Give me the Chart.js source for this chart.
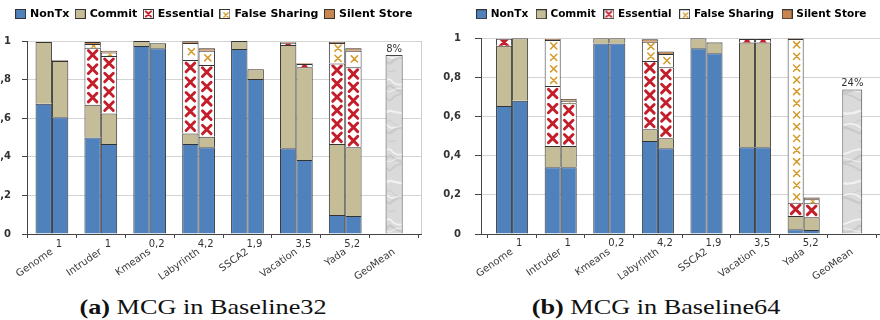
<!DOCTYPE html>
<html>
<head>
<meta charset="utf-8">
<script src="https://cdn.jsdelivr.net/npm/chart.js@4.4.1/dist/chart.umd.min.js"></script>
<style>
  html, body { margin:0; padding:0; background:#fff; }
  body { width:880px; height:320px; overflow:hidden; position:relative; }
  canvas { position:absolute; top:0; }
  #c1 { left:0; }
  #c2 { left:440px; }
  .cap { position:absolute; top:297px; font-family:"Liberation Serif","Times New Roman",serif; font-size:21px; line-height:1; color:#111; white-space:nowrap; transform-origin:50% 50%; transform:translateX(-50%) scaleX(1.25); }
  #cap1 { left:203px; }
  #cap2 { left:656px; }
</style>
</head>
<body>
<canvas id="c1" width="428" height="290"></canvas>
<canvas id="c2" width="464" height="290"></canvas>
<div class="cap" id="cap1"><b>(a)</b> MCG in Baseline32</div>
<div class="cap" id="cap2"><b>(b)</b> MCG in Baseline64</div>
<script>
// ---------- data ----------
const categories = ['Genome', 'Intruder', 'Kmeans', 'Labyrinth', 'SSCA2', 'Vacation', 'Yada', 'GeoMean'];
const categoryNotes = ['1', '1', '0,2', '4,2', '1,9', '3,5', '5,2', ''];
const seriesNames = ['NonTx', 'Commit', 'Essential', 'False Sharing', 'Silent Store'];
const yTickValues = [0, 0.2, 0.4, 0.6, 0.8, 1];
const yTickLabels = ['0', '0,2', '0,4', '0,6', '0,8', '1'];

// (a) Baseline32 - first bar of each pair
const b32A_nonTx        = [0.675, 0.500, 0.974, 0.466, 0.958, 0.444, 0.098];
const b32A_commit       = [0.320, 0.170, 0.026, 0.055, 0.042, 0.535, 0.368];
const b32A_essential    = [0,     0.295, 0,     0.380, 0,     0.012, 0.418];
const b32A_falseSharing = [0,     0.020, 0,     0.088, 0,     0,     0.106];
const b32A_silentStore  = [0,     0.010, 0,     0.010, 0,     0.004, 0.005];
// (a) Baseline32 - second bar of each pair
const b32B_nonTx        = [0.605, 0.466, 0.962, 0.449, 0.803, 0.383, 0.093];
const b32B_commit       = [0.291, 0.159, 0.026, 0.055, 0.050, 0.481, 0.356];
const b32B_essential    = [0,     0.297, 0,     0.372, 0,     0.017, 0.415];
const b32B_falseSharing = [0,     0.018, 0,     0.074, 0,     0,     0.086];
const b32B_silentStore  = [0.004, 0.010, 0,     0.012, 0,     0.004, 0.012];
const b32_geoMean = 0.927;
const b32_geoLabel = '8%';

// (b) Baseline64 - first bar of each pair
const b64A_nonTx        = [0.654, 0.341, 0.974, 0.475, 0.949, 0.443, 0.024];
const b64A_commit       = [0.308, 0.109, 0.026, 0.060, 0.051, 0.535, 0.068];
const b64A_essential    = [0.036, 0.306, 0,     0.349, 0,     0.019, 0.068];
const b64A_falseSharing = [0,     0.235, 0,     0.099, 0,     0,     0.837];
const b64A_silentStore  = [0,     0.006, 0,     0.012, 0,     0,     0.003];
// (b) Baseline64 - second bar of each pair
const b64B_nonTx        = [0.681, 0.341, 0.974, 0.438, 0.923, 0.443, 0.020];
const b64B_commit       = [0.319, 0.109, 0.026, 0.051, 0.055, 0.535, 0.065];
const b64B_essential    = [0,     0.218, 0,     0.363, 0,     0.019, 0.072];
const b64B_falseSharing = [0,     0.013, 0,     0.068, 0,     0,     0.020];
const b64B_silentStore  = [0,     0.009, 0,     0.012, 0.003, 0,     0.010];
const b64_geoMean = 0.739;
const b64_geoLabel = '24%';

// ---------- styles ----------
const fills = ['#4F81BD', '#C4BD97', '#FFFFFF', '#FFFFFF', '#C8864E'];
const marks = [null, null, 'ess', 'fs', null];
const edge = '#333333';
const essColor = '#C41E2A';
const fsColor = '#D49A2A';

function drawX(g, cx, cy, r, color, lw) {
  g.strokeStyle = color; g.lineWidth = lw; g.lineCap = 'round';
  g.beginPath();
  g.moveTo(cx - r, cy - r); g.lineTo(cx + r, cy + r);
  g.moveTo(cx + r, cy - r); g.lineTo(cx - r, cy + r);
  g.stroke();
}

function legendIcon(i) {
  const c = document.createElement('canvas'); c.width = 11; c.height = 10;
  const g = c.getContext('2d');
  g.fillStyle = fills[i]; g.fillRect(0.5, 0.5, 10, 9);
  if (marks[i] === 'ess') drawX(g, 5.5, 5, 2.6, essColor, 2);
  if (marks[i] === 'fs') drawX(g, 6.5, 6, 2.2, fsColor, 1.3);
  g.strokeStyle = edge; g.lineWidth = 1; g.strokeRect(0.5, 0.5, 10, 9);
  return c;
}
const icons = seriesNames.map((_, i) => legendIcon(i));

function marbleTile() {
  const c = document.createElement('canvas'); c.width = 30; c.height = 70;
  const g = c.getContext('2d');
  g.fillStyle = '#dadada'; g.fillRect(0, 0, 30, 70);
  for (let k = 0; k < 9; k++) {
    g.strokeStyle = k % 2 ? 'rgba(248,248,248,0.75)' : 'rgba(165,165,165,0.3)';
    g.lineWidth = 1 + (k % 3) * 0.7;
    const y0 = k * 8;
    g.beginPath();
    g.moveTo(0, y0 + 2 * Math.cos(k));
    g.bezierCurveTo(9, y0 + 14 * Math.sin(k * 1.3), 20, y0 - 10 * Math.cos(k * 1.7), 30, y0 + 2 * Math.cos(k));
    g.stroke();
  }
  return c;
}

// ---------- plugins ----------
const marksPlugin = {
  id: 'marks',
  afterDatasetsDraw(chart) {
    const g = chart.ctx;
    chart.data.datasets.forEach((ds, di) => {
      if (!ds.mark) return;
      const meta = chart.getDatasetMeta(di);
      const sp = ds.mark === 'ess' ? 14.5 : 11.7;
      meta.data.forEach((el, j) => {
        if (ds.data[j] == null) return;
        const p = el.getProps(['x', 'y', 'base', 'width'], true);
        const top = Math.min(p.y, p.base), bot = Math.max(p.y, p.base), h = bot - top;
        if (h <= 0) return;
        const left = p.x - p.width / 2;
        g.save();
        g.beginPath(); g.rect(left + 1, top + 1, p.width - 2, h - 1); g.clip();
        const n = Math.max(1, Math.round(h / sp)); const step = h / n;
        for (let k = 0; k < n; k++) {
          const cy = bot - step * (k + 0.5);
          if (ds.mark === 'ess') drawX(g, p.x, cy, 4.3, essColor, 2.9);
          else drawX(g, p.x + 1, cy, 3.1, fsColor, 1.5);
        }
        g.restore();
      });
    });
  }
};

function makeExtras(cfg) {
  return {
    id: 'extras',
    beforeLayout(chart) {
      const lg = chart.legend;
      if (lg && !lg._fixed) {
        const orig = lg.fit.bind(lg);
        lg.fit = function () { orig(); this.height = cfg.legendHeight; };
        lg._fixed = true;
      }
    },
    afterLayout(chart) {
      const lg = chart.legend;
      if (lg) { lg.left += cfg.legendShift; lg.right += cfg.legendShift; }
    },
    beforeDatasetsDraw(chart) {
      if (!cfg.frame) return;
      const a = chart.chartArea, g = chart.ctx;
      g.save(); g.strokeStyle = '#cfcfcf'; g.lineWidth = 1;
      g.beginPath(); g.moveTo(Math.round(a.right) + 0.5, a.top); g.lineTo(Math.round(a.right) + 0.5, a.bottom); g.stroke();
      g.restore();
    },
    afterDraw(chart) {
      const xs = chart.scales.x, a = chart.chartArea, g = chart.ctx;
      g.save();
      g.font = '10px "DejaVu Sans"'; g.fillStyle = '#333'; g.textAlign = 'center'; g.textBaseline = 'middle';
      categoryNotes.forEach((t, i) => { if (t) g.fillText(t, xs.getPixelForValue(i) + cfg.noteDx, a.bottom + cfg.noteDy); });
      chart.data.datasets.forEach((ds, di) => {
        if (!ds.pctLabel) return;
        const meta = chart.getDatasetMeta(di);
        meta.data.forEach((el, j) => {
          if (ds.data[j] == null) return;
          g.fillText(ds.pctLabel, el.x, el.y - 6);
        });
      });
      g.restore();
    }
  };
}

function makeChart(canvasId, cfg) {
  const canvas = document.getElementById(canvasId);
  const ctx = canvas.getContext('2d');
  const marble = ctx.createPattern(marbleTile(), 'repeat');
  const datasets = [];
  [['A', cfg.first], ['B', cfg.second]].forEach(([side, arrs]) => {
    arrs.forEach((arr, s) => {
      datasets.push({
        label: seriesNames[s],
        data: arr.map(v => (v > 0 ? v : null)).concat([null]),
        stack: side,
        backgroundColor: fills[s],
        borderColor: edge,
        borderWidth: 1,
        borderSkipped: 'start',
        categoryPercentage: cfg.catPct,
        barPercentage: 1,
        mark: marks[s]
      });
    });
  });
  datasets.push({
    label: 'GeoMean',
    data: categories.map((c, i) => (i === categories.length - 1 ? cfg.geo : null)),
    stack: 'G',
    grouped: false,
    categoryPercentage: cfg.geoPct,
    barPercentage: 1,
    backgroundColor: marble,
    borderColor: '#444',
    borderWidth: 1,
    pctLabel: cfg.geoLabel
  });

  return new Chart(ctx, {
    type: 'bar',
    data: { labels: categories.map((_, i) => i), datasets },
    plugins: [marksPlugin, makeExtras(cfg)],
    options: {
      responsive: false,
      animation: false,
      devicePixelRatio: 1,
      layout: { padding: cfg.pad },
      plugins: {
        tooltip: { enabled: false },
        legend: {
          position: 'top',
          align: 'center',
          labels: {
            usePointStyle: true,
            pointStyleWidth: 8,
            padding: cfg.legendPad,
            color: '#1e1e1e',
            font: { family: 'DejaVu Sans', size: cfg.legendFont, weight: 'bold' },
            generateLabels: () => seriesNames.map((n, i) => ({
              text: n, pointStyle: icons[i], fillStyle: fills[i], strokeStyle: edge,
              lineWidth: 1, hidden: false, datasetIndex: i
            }))
          }
        }
      },
      scales: {
        x: {
          type: 'linear',
          offset: false,
          stacked: true,
          min: cfg.xMin,
          max: cfg.xMax,
          afterBuildTicks: s => { s.ticks = categories.map((_, i) => ({ value: i })); },
          afterFit: s => { s.height = 56; },
          ticks: {
            autoSkip: false, minRotation: 35, maxRotation: 35, padding: 8,
            color: '#3a3a3a', font: { family: 'DejaVu Sans', size: 10 },
            callback: v => (categories[v] !== undefined ? categories[v] : '')
          },
          grid: { display: true, drawOnChartArea: false, drawTicks: true, tickLength: 4, offset: true, tickColor: '#444' },
          border: { display: true, color: '#444' }
        },
        y: {
          stacked: true,
          min: 0,
          max: 1,
          afterBuildTicks: s => { s.ticks = yTickValues.map(v => ({ value: v })); },
          afterFit: s => { s.width = cfg.yWidth; },
          ticks: {
            padding: cfg.yPad, color: '#333',
            font: { family: 'DejaVu Sans', size: 10, weight: 'bold' },
            callback: (v, i) => yTickLabels[i]
          },
          grid: { color: '#d4d4d4', tickColor: '#444', tickLength: cfg.yTick },
          border: { color: '#444' }
        }
      }
    }
  });
}

makeChart('c1', {
  first: [b32A_nonTx, b32A_commit, b32A_essential, b32A_falseSharing, b32A_silentStore],
  second: [b32B_nonTx, b32B_commit, b32B_essential, b32B_falseSharing, b32B_silentStore],
  geo: b32_geoMean, geoLabel: b32_geoLabel,
  catPct: 0.67, geoPct: 0.35,
  xMin: -0.51, xMax: 7.55,
  pad: { top: 1.5, left: 0, right: 7, bottom: 0 },
  legendHeight: 39.5, legendPad: 7, legendFont: 11, legendShift: 4,
  yWidth: 27, yPad: 11, yTick: 5,
  noteDx: 7, noteDy: 10, frame: true
});

makeChart('c2', {
  first: [b64A_nonTx, b64A_commit, b64A_essential, b64A_falseSharing, b64A_silentStore],
  second: [b64B_nonTx, b64B_commit, b64B_essential, b64B_falseSharing, b64B_silentStore],
  geo: b64_geoMean, geoLabel: b64_geoLabel,
  catPct: 0.66, geoPct: 0.41,
  xMin: -0.64, xMax: 7.9,
  pad: { top: 0, left: 0, right: 8, bottom: 0 },
  legendHeight: 38.3, legendPad: 9, legendFont: 10.5, legendShift: 4,
  yWidth: 41, yPad: 14, yTick: 6,
  noteDx: 7, noteDy: 9, frame: false
});
</script>
</body>
</html>
